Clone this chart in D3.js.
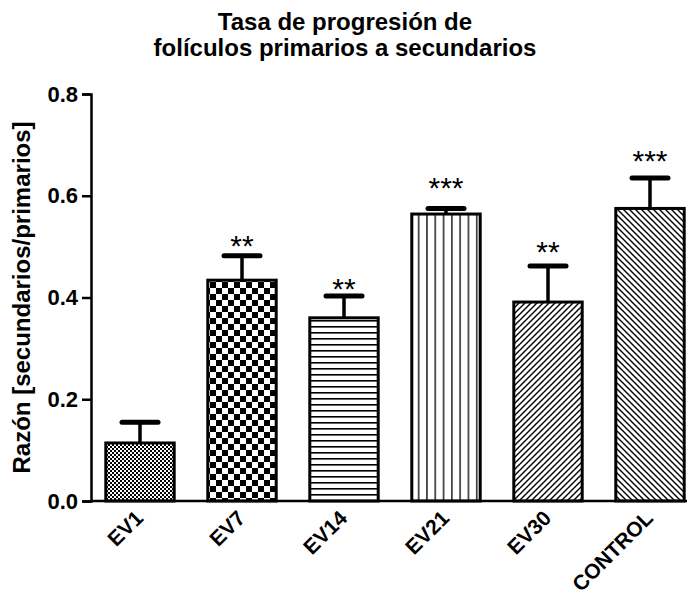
<!DOCTYPE html>
<html>
<head>
<meta charset="utf-8">
<script src="https://cdn.jsdelivr.net/npm/d3@7"></script>
<style>
  html, body { margin: 0; padding: 0; background: #fff; }
  svg { display: block; }
  text { font-family: "Liberation Sans", Arial, sans-serif; font-weight: bold; fill: #000; }
</style>
</head>
<body>
<svg id="chart" width="687" height="601"></svg>
<script>
// ---- data ----
const categories = ["EV1", "EV7", "EV14", "EV21", "EV30", "CONTROL"];
const means      = [0.117, 0.437, 0.363, 0.567, 0.394, 0.578];
const sdUpper    = [0.155, 0.482, 0.403, 0.575, 0.462, 0.635];
const stars      = ["", "**", "**", "***", "**", "***"];
const starLevel  = [null, 0.513, 0.428, 0.627, 0.501, 0.680];
const yTicks     = [0.0, 0.2, 0.4, 0.6, 0.8];
const patterns   = ["pFine", "pCheck", "pHoriz", "pVert", "pDiagR", "pDiagL"];
const titleLines = ["Tasa de progresión de", "folículos primarios a secundarios"];
const yLabel     = "Razón [secundarios/primarios]";

const svg = d3.select("#chart");
const defs = svg.append("defs");

// patterns
function pat(id, w, h) {
  const p = defs.append("pattern").attr("id", id).attr("patternUnits", "userSpaceOnUse")
    .attr("width", w).attr("height", h);
  p.append("rect").attr("width", w).attr("height", h).attr("fill", "#fff");
  return p;
}
let p = pat("pFine", 4, 4);
p.append("rect").attr("x", 0).attr("y", 0).attr("width", 2).attr("height", 2).attr("fill", "#000");
p.append("rect").attr("x", 2).attr("y", 2).attr("width", 2).attr("height", 2).attr("fill", "#000");
p = pat("pCheck", 12, 12);
p.append("rect").attr("x", 0).attr("y", 0).attr("width", 6).attr("height", 6).attr("fill", "#000");
p.append("rect").attr("x", 6).attr("y", 6).attr("width", 6).attr("height", 6).attr("fill", "#000");
p = pat("pHoriz", 6, 6);
p.append("rect").attr("x", 0).attr("y", 2).attr("width", 6).attr("height", 1.6).attr("fill", "#000");
p = pat("pVert", 8.3, 8);
p.append("rect").attr("x", 3).attr("y", 0).attr("width", 1.3).attr("height", 8).attr("fill", "#000");
p = pat("pDiagR", 6, 6);
p.append("path").attr("d", "M0,6 L6,0 M-1,1 L1,-1 M5,7 L7,5").attr("stroke", "#000").attr("stroke-width", 1.4);
p = pat("pDiagL", 6, 6);
p.append("path").attr("d", "M0,0 L6,6 M-1,5 L1,7 M5,-1 L7,1").attr("stroke", "#000").attr("stroke-width", 1.4);

// scales
const axisX = 91, y0px = 501, yTop = 94;
const x = d3.scaleBand().domain(categories)
  .range([axisX - 2, axisX - 2 + 6 * 102]).paddingInner(0.30).paddingOuter(0.15);
const y = d3.scaleLinear().domain([0, 0.8]).range([y0px, yTop]);

// title
svg.append("g").selectAll("text").data(titleLines).join("text")
  .attr("x", 345).attr("y", (d, i) => 30 + i * 26)
  .attr("text-anchor", "middle").style("font-size", "24px").text(d => d);

// y label
svg.append("text").attr("transform", `translate(30,${(y0px + yTop) / 2}) rotate(-90)`)
  .attr("text-anchor", "middle").style("font-size", "24px").text(yLabel);

// bars
const data = categories.map((c, i) => ({ c, m: means[i], sd: sdUpper[i], s: stars[i], sl: starLevel[i], p: patterns[i] }));
const bars = svg.append("g");
bars.selectAll("rect").data(data).join("rect")
  .attr("x", d => x(d.c) + 1.5).attr("width", x.bandwidth() - 3)
  .attr("y", d => y(d.m) + 1.5).attr("height", d => y0px - y(d.m) - 1.5)
  .attr("fill", d => `url(#${d.p})`).attr("stroke", "#000").attr("stroke-width", 3);

// error bars
const eb = svg.append("g").attr("stroke", "#000").attr("stroke-width", 3.5).attr("stroke-linecap", "round");
eb.selectAll("line.v").data(data).join("line").attr("class", "v")
  .attr("x1", d => x(d.c) + x.bandwidth() / 2).attr("x2", d => x(d.c) + x.bandwidth() / 2)
  .attr("y1", d => y(d.m)).attr("y2", d => y(d.sd));
eb.selectAll("line.h").data(data).join("line").attr("class", "h")
  .attr("x1", d => x(d.c) + x.bandwidth() / 2 - 18).attr("x2", d => x(d.c) + x.bandwidth() / 2 + 18)
  .attr("y1", d => y(d.sd)).attr("y2", d => y(d.sd)).attr("stroke-width", 5);

// stars
svg.append("g").selectAll("text").data(data.filter(d => d.s)).join("text")
  .attr("x", d => x(d.c) + x.bandwidth() / 2).attr("y", d => y(d.sl) + 16)
  .attr("text-anchor", "middle").style("font-size", "30px").style("font-weight", "normal").text(d => d.s);

// y axis
const yAxis = svg.append("g").attr("transform", `translate(${axisX},0)`)
  .call(d3.axisLeft(y).tickValues(yTicks).tickFormat(d3.format(".1f")).tickSizeOuter(0).tickSize(9).tickPadding(4));
yAxis.select(".domain").attr("stroke-width", 2.5);
yAxis.selectAll(".tick line").attr("stroke-width", 2.5);
yAxis.selectAll(".tick text").style("font-size", "22px").style("font-family", "Liberation Sans, Arial, sans-serif").style("font-weight", "bold");

// x axis baseline
const xAxis = svg.append("g").attr("transform", `translate(0,${y0px})`)
  .call(d3.axisBottom(x).tickSize(0).tickPadding(0));
xAxis.select(".domain").attr("d", `M${axisX},0H687`).attr("stroke-width", 2.5);
xAxis.selectAll(".tick text")
  .attr("transform", "translate(-6,8) rotate(-45)")
  .attr("text-anchor", "end").attr("dy", "0.7em")
  .style("font-size", "21px").style("font-family", "Liberation Sans, Arial, sans-serif").style("font-weight", "bold");
</script>
</body>
</html>
